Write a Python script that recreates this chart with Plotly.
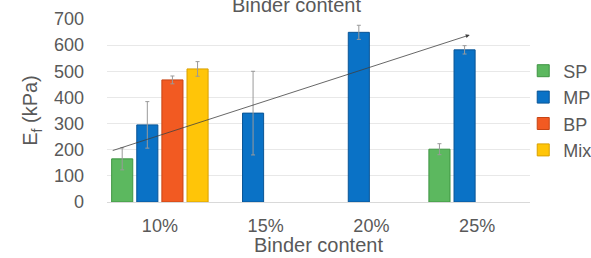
import plotly.graph_objects as go

categories = ["10%", "15%", "20%", "25%"]
series = ["SP", "MP", "BP", "Mix"]
values = {
    "SP":  [165, None, None, 202],
    "MP":  [295, 340, 649, 582],
    "BP":  [467, None, None, None],
    "Mix": [509, None, None, None],
}
errors = {
    "SP":  [42, None, None, 21],
    "MP":  [89, 160, 27, 16],
    "BP":  [15, None, None, None],
    "Mix": [28, None, None, None],
}
colors = {"SP": "#5cb85f", "MP": "#0a72c6", "BP": "#f25a22", "Mix": "#ffc508"}
edges = {"SP": "#3f9443", "MP": "#0a5596", "BP": "#c74414", "Mix": "#d9a000"}

# trend arrow (start, end) in axis units
trend_x = [-0.46, 2.93]
trend_y = [195, 639]

xpos = list(range(len(categories)))
fig = go.Figure()
for s in series:
    fig.add_trace(go.Bar(
        name=s, x=xpos, y=values[s],
        marker=dict(color=colors[s], line=dict(color=edges[s], width=1)),
        error_y=dict(type="data", array=errors[s], color="#9a9a9a",
                     thickness=1, width=2),
    ))

fig.add_annotation(x=trend_x[1], y=trend_y[1], ax=trend_x[0], ay=trend_y[0],
                   xref="x", yref="y", axref="x", ayref="y", text="",
                   showarrow=True, arrowhead=2, arrowsize=1, arrowwidth=0.8,
                   arrowcolor="#404040")

fig.add_annotation(text="Binder content", xref="paper", yref="paper",
                   x=0.449, y=1, yanchor="bottom", yshift=1, showarrow=False,
                   font=dict(size=20, color="#595959"))

# x-axis title
fig.add_annotation(text="Binder content", xref="paper", yref="paper",
                   x=0.5, y=0, yanchor="top", yshift=-30, showarrow=False,
                   font=dict(size=20, color="#595959"))

fig.update_layout(
    width=591, height=258,
    margin=dict(l=107, r=61, t=19, b=56, autoexpand=False),
    paper_bgcolor="white", plot_bgcolor="white",
    barmode="group", bargap=0.05, bargroupgap=0.16,
    font=dict(family="Liberation Sans, Arial, sans-serif", color="#595959", size=18),
    showlegend=True,
    legend=dict(x=0.984, xanchor="left", y=0.5, yanchor="middle",
                font=dict(size=18, color="#595959"), itemwidth=30,
                bgcolor="rgba(0,0,0,0)", tracegroupgap=0),
)
fig.update_xaxes(
    tickmode="array", tickvals=xpos, ticktext=categories,
    range=[-0.5, len(categories) - 0.5], automargin=False,
    showgrid=False, zeroline=False, showline=False, ticks="",
    ticklabelstandoff=11,
    tickfont=dict(size=18),
)
fig.update_yaxes(
    range=[0, 700], dtick=100, showgrid=True, gridcolor="#e8e8e8", gridwidth=1,
    zeroline=True, zerolinecolor="#d9d9d9", zerolinewidth=1, automargin=False,
    ticklabelstandoff=22,
    title=dict(text="E<sub>f</sub> (kPa)", font=dict(size=20, color="#595959"), standoff=10),
    tickfont=dict(size=18), ticks="", ticklen=0,
)

fig.write_html("out.html", config={"displayModeBar": False},
               post_script="document.body.style.margin='0px';")
